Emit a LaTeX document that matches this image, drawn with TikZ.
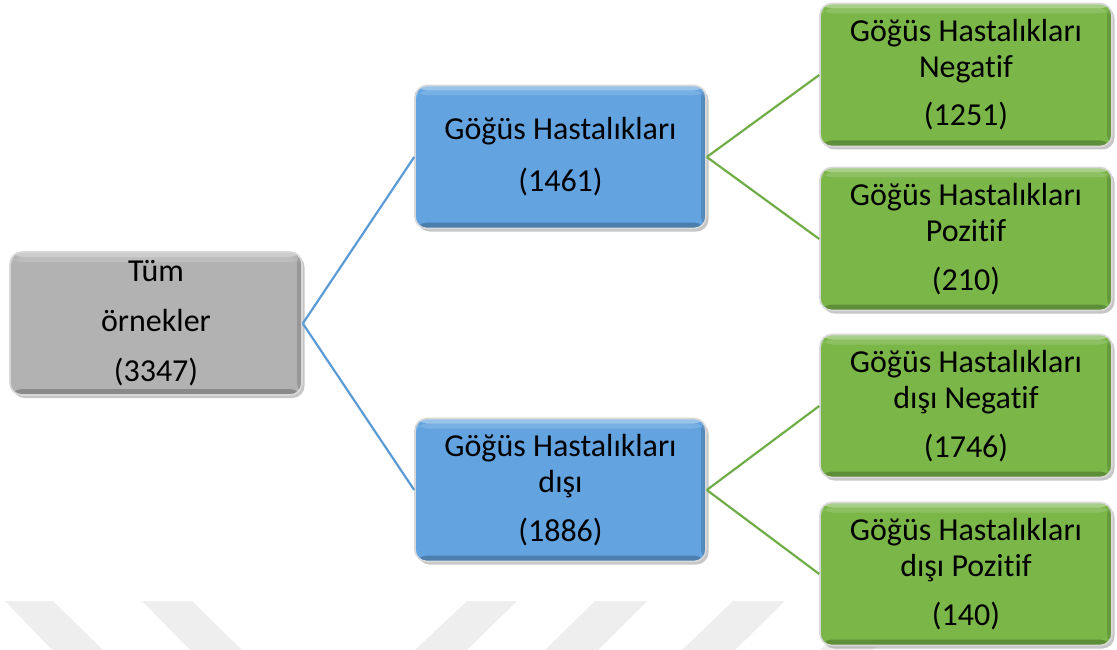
\documentclass[tikz,border=0pt]{standalone}
\usepackage{fontspec}
\setmainfont{Carlito}[Ligatures=NoCommon]
\usetikzlibrary{shadows}

\definecolor{greyfill}{RGB}{178,178,178}
\definecolor{bluefill}{RGB}{98,163,224}
\definecolor{greenfill}{RGB}{122,182,72}
\definecolor{blueline}{RGB}{91,155,213}
\definecolor{greenline}{RGB}{112,173,71}
\definecolor{wmark}{RGB}{238,238,238}
\definecolor{rim}{RGB}{216,216,216}

\tikzset{
  bevel/.style={path picture={
    \fill[white,opacity=0.35] (path picture bounding box.north west) rectangle ([yshift=-5pt]path picture bounding box.north east);
    \fill[white,opacity=0.15] ([yshift=-5pt]path picture bounding box.north west) rectangle ([yshift=-10pt]path picture bounding box.north east);
    \fill[black,opacity=0.22] ([yshift=6pt]path picture bounding box.south west) rectangle (path picture bounding box.south east);
    \fill[black,opacity=0.15] ([xshift=-5pt]path picture bounding box.north east) rectangle (path picture bounding box.south east);
  }},
  box/.style={rounded corners=12pt, minimum width=292pt, minimum height=143pt,
    inner sep=0pt, draw=rim, line width=1.6pt, align=center, text=black,
    font=\fontsize{32}{36}\selectfont,
    drop shadow={opacity=0.45, shadow xshift=2.5pt, shadow yshift=-3pt}, bevel},
  greybox/.style={box, fill=greyfill},
  bluebox/.style={box, fill=bluefill},
  greenbox/.style={box, fill=greenfill},
  blueconn/.style={draw=blueline, line width=2.2pt},
  greenconn/.style={draw=greenline, line width=2.2pt},
  wmarkbar/.style={fill=wmark, draw=none}
}

\begin{document}
\begin{tikzpicture}[x=1pt, y=-1pt]
\useasboundingbox (0,0) rectangle (1117,650);

% faint slanted bars along the bottom edge
\fill[wmarkbar] (5,601) -- (53,601) -- (103,650) -- (52,650) -- cycle;
\fill[wmarkbar] (142,601) -- (192,601) -- (242,650) -- (190,650) -- cycle;
\fill[wmarkbar] (467,601) -- (517,601) -- (467,650) -- (415,650) -- cycle;
\fill[wmarkbar] (595,601) -- (647,601) -- (598,650) -- (545,650) -- cycle;
\fill[wmarkbar] (733,601) -- (785,601) -- (735,650) -- (682,650) -- cycle;
\fill[wmarkbar] (871,601) -- (923,601) -- (872,650) -- (820,650) -- cycle;

% tree nodes
\node[greybox] (all) at (156,323.5) {Tüm\\[14pt]örnekler\\[14pt](3347)};

\node[bluebox, minimum width=291pt] (chest) at (560.5,157) {Göğüs Hastalıkları\\[16pt](1461)};
\node[bluebox, minimum width=291pt] (other) at (560.5,490) {Göğüs Hastalıkları\\dışı\\[13pt](1886)};

\node[greenbox] (chestneg) at (966,75) {Göğüs Hastalıkları\\Negatif\\[12pt](1251)};
\node[greenbox] (chestpos) at (966,239) {Göğüs Hastalıkları\\Pozitif\\[13pt](210)};
\node[greenbox] (otherneg) at (966,406) {Göğüs Hastalıkları\\dışı Negatif\\[13pt](1746)};
\node[greenbox] (otherpos) at (966,574) {Göğüs Hastalıkları\\dışı Pozitif\\[13pt](140)};

% connectors
\path[blueconn] (all.east) -- (chest.west);
\path[blueconn] (all.east) -- (other.west);
\path[greenconn] (chest.east) -- (chestneg.west);
\path[greenconn] (chest.east) -- (chestpos.west);
\path[greenconn] (other.east) -- (otherneg.west);
\path[greenconn] (other.east) -- (otherpos.west);
\end{tikzpicture}
\end{document}
